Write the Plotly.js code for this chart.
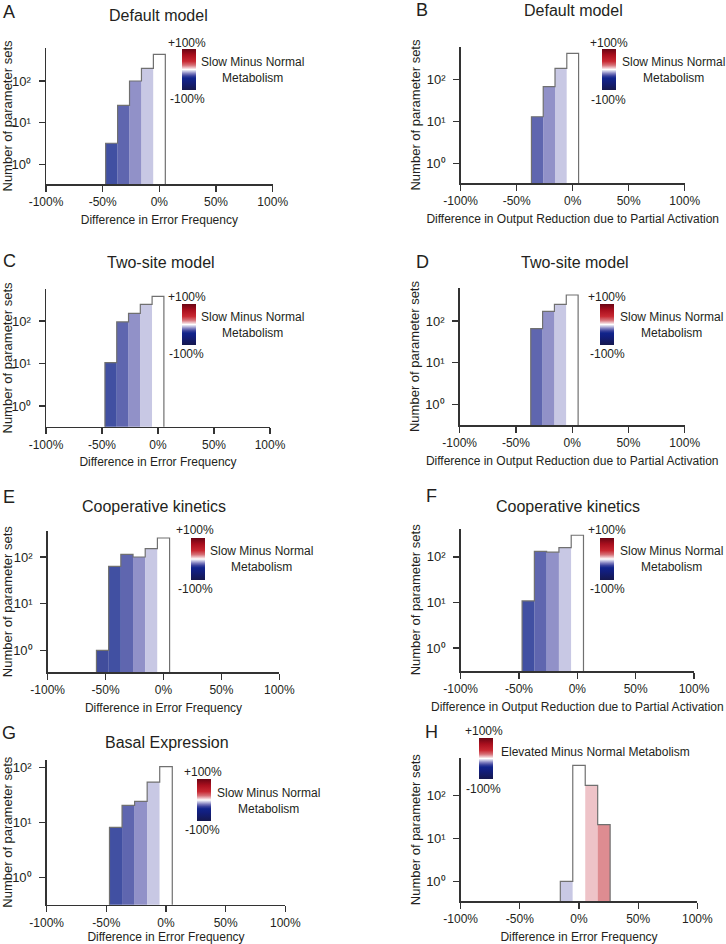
<!DOCTYPE html>
<html>
<head>
<meta charset="utf-8">
<script src="https://cdn.plot.ly/plotly-3.0.1.min.js"></script>
<style>html,body{margin:0;padding:0;background:#fff;}#chart{width:726px;height:944px;}</style>
</head>
<body>
<div id="chart"></div>
<script>
// ---------------- DATA ----------------
// histogram bin centres (percent), bins of width 200/19 %
const centersA = [-42.11, -31.58, -21.05, -10.53, 0];
const countsA  = [3.2, 26, 100, 201, 437];
const centersB = [-31.58, -21.05, -10.53, 0];
const countsB  = [12.9, 67, 183, 416];
const centersC = [-42.11, -31.58, -21.05, -10.53, 0];
const countsC  = [10.5, 95, 151, 247, 381];
const centersD = [-31.58, -21.05, -10.53, 0];
const countsD  = [65.5, 171, 251, 421];
const centersE = [-52.63, -42.11, -31.58, -21.05, -10.53, 0];
const countsE  = [1, 63, 114, 100, 151, 255];
const centersF = [-42.11, -31.58, -21.05, -10.53, 0];
const countsF  = [10.8, 133, 127, 160, 299];
const centersG = [-42.11, -31.58, -21.05, -10.53, 0];
const countsG  = [8.1, 20.4, 24.1, 54.1, 103];
const centersH = [-10.53, 0, 10.53, 21.05];
const countsH  = [1, 499, 171, 20.8];

const panelLetters = ['A','B','C','D','E','F','G','H'];
const panelTitles = ['Default model','Default model','Two-site model','Two-site model',
                     'Cooperative kinetics','Cooperative kinetics','Basal Expression',''];
const xTitles = ['Difference in Error Frequency','Difference in Output Reduction due to Partial Activation',
                 'Difference in Error Frequency','Difference in Output Reduction due to Partial Activation',
                 'Difference in Error Frequency','Difference in Output Reduction due to Partial Activation',
                 'Difference in Error Frequency','Difference in Error Frequency'];
const yTitle = 'Number of parameter sets';
const cbLabels = ['Slow Minus Normal<br>Metabolism','Slow Minus Normal<br>Metabolism',
                  'Slow Minus Normal<br>Metabolism','Slow Minus Normal<br>Metabolism',
                  'Slow Minus Normal<br>Metabolism','Slow Minus Normal<br>Metabolism',
                  'Slow Minus Normal<br>Metabolism','Elevated Minus Normal Metabolism'];
const cbTop = '+100%', cbBottom = '-100%';
const xTickVals = [-100, -50, 0, 50, 100];
const xTickText = ['-100%', '-50%', '0%', '50%', '100%'];
const yTickVals = [1, 10, 100];
const yTickText = ['10\u2070', '10\u00B9', '10\u00B2'];
const colorMin = -100, colorMax = 100;

const allCenters = [centersA, centersB, centersC, centersD, centersE, centersF, centersG, centersH];
const allCounts  = [countsA, countsB, countsC, countsD, countsE, countsF, countsG, countsH];

// ---------------- GEOMETRY / STYLE (pixels) ----------------
const W = 726, H = 944;
const BIN = 200 / 19;
const geo = [
 {x0:46,   x1:272.7, y0:47.7,  y1:184.3, yr:[-0.48,2.80], cb:[181.7,49.3,90],   plusY:42.7,  minusY:99.3,  cbCx:187,   txt:[252.3,70.5],  letter:[9.3,11.7],  title:[158.7,15.7]},
 {x0:460.7,x1:684.7, y0:46.7,  y1:183.3, yr:[-0.476,2.78],cb:[602.3,49.3,90.7], plusY:42.7,  minusY:100,   cbCx:608.5, txt:[673,70.5],    letter:[422.3,10],  title:[573.7,10.7]},
 {x0:46,   x1:270,   y0:289.3, y1:426.7, yr:[-0.486,2.745],cb:[181.7,304.3,345],plusY:297,   minusY:354.3, cbCx:186.7, txt:[252.3,325.2], letter:[9.3,261],   title:[161,262]},
 {x0:459.7,x1:684.7, y0:287.7, y1:425.3, yr:[-0.504,2.80], cb:[600.3,303.7,345],plusY:297,   minusY:354.3, cbCx:607,   txt:[671.3,325.2], letter:[423,262],   title:[574.7,262]},
 {x0:47.7, x1:279.3, y0:531.3, y1:672,   yr:[-0.464,2.55], cb:[190.7,537.7,579.3],plusY:530.3,minusY:588.7, cbCx:195,   txt:[261.7,559.2], letter:[9.3,497],   title:[154,507]},
 {x0:460.7,x1:694,   y0:528.7, y1:671,   yr:[-0.505,2.62], cb:[600.3,537.7,579.3],plusY:530.3,minusY:588.7, cbCx:607,   txt:[671.3,559.2], letter:[431.3,496], title:[568,506.3]},
 {x0:46.7, x1:285.3, y0:759.7, y1:904.7, yr:[-0.497,2.14], cb:[197.3,779,821.3], plusY:772,   minusY:830.3, cbCx:202.7, txt:[268.3,801],   letter:[9.3,733],   title:[166.7,742.3]},
 {x0:460.7,x1:697.3, y0:758,   y1:901.3, yr:[-0.465,2.87], cb:[479,738,779],     plusY:731.3, minusY:789,   cbCx:483.7, txt:[595.3,752],   letter:[431.3,732], title:[0,0]}
];

const colorscale = [
 [0.000,'rgb(22,24,78)'],
 [0.200,'rgb(18,30,125)'],
 [0.290,'rgb(17,36,139)'],
 [0.342,'rgb(55,64,155)'],
 [0.395,'rgb(117,117,186)'],
 [0.447,'rgb(186,186,221)'],
 [0.500,'rgb(255,255,255)'],
 [0.553,'rgb(234,180,186)'],
 [0.605,'rgb(214,111,118)'],
 [0.700,'rgb(200,40,50)'],
 [0.850,'rgb(170,15,30)'],
 [1.000,'rgb(105,5,20)']
];

const FONT = 'Liberation Sans, Arial, Helvetica, sans-serif';
const TXT = '#231f20';
const AX = '#333333';

function stepOutline(centers, counts) {
  const floor = 1e-3;
  const e0 = centers[0] - BIN / 2;
  const xs = [e0], ys = [floor];
  for (let i = 0; i < centers.length; i++) {
    xs.push(centers[i] - BIN / 2, centers[i] + BIN / 2);
    ys.push(counts[i], counts[i]);
  }
  xs.push(centers[centers.length - 1] + BIN / 2);
  ys.push(floor);
  return {xs, ys};
}

const traces = [];
const layout = {
  width: W, height: H,
  margin: {l:0, r:0, t:0, b:0},
  paper_bgcolor: '#fff', plot_bgcolor: 'rgba(0,0,0,0)',
  font: {family: FONT, color: TXT, size: 12},
  showlegend: false,
  annotations: []
};

function ann(text, px, py, size, extra) {
  return Object.assign({text: text, x: px / W, y: 1 - py / H, xref: 'paper', yref: 'paper',
    xanchor: 'center', yanchor: 'middle', showarrow: false, font: {size: size, color: TXT, family: FONT}}, extra || {});
}

for (let i = 0; i < 8; i++) {
  const s = i === 0 ? '' : String(i + 1);
  const g = geo[i];
  const xa = 'x' + s, ya = 'y' + s, ca = 'coloraxis' + s;
  traces.push({
    type: 'bar', x: allCenters[i], y: allCounts[i], width: BIN,
    xaxis: xa, yaxis: ya, hoverinfo: 'skip',
    marker: {color: allCenters[i], coloraxis: ca, opacity: 0.8, line: {width: 0}}
  });
  const st = stepOutline(allCenters[i], allCounts[i]);
  traces.push({
    type: 'scatter', mode: 'lines', x: st.xs, y: st.ys, xaxis: xa, yaxis: ya,
    hoverinfo: 'skip', line: {color: '#707070', width: 1.2}
  });
  layout['xaxis' + s] = {
    domain: [g.x0 / W, g.x1 / W], anchor: ya, range: [-100, 100],
    tickmode: 'array', tickvals: xTickVals, ticktext: xTickText,
    ticks: 'outside', ticklen: 6, tickwidth: 1.2, tickcolor: AX,
    showline: true, linecolor: AX, linewidth: 1.5, showgrid: false, zeroline: false,
    tickfont: {size: 12, color: TXT, family: FONT}, ticklabelstandoff: 0,
    title: {text: xTitles[i], font: {size: 12, color: TXT, family: FONT}, standoff: 7}
  };
  layout['yaxis' + s] = {
    domain: [1 - g.y1 / H, 1 - g.y0 / H], anchor: xa, type: 'log', range: g.yr,
    tickmode: 'array', tickvals: yTickVals, ticktext: yTickText,
    ticks: 'outside', ticklen: 6, tickwidth: 1.2, tickcolor: AX,
    showline: true, linecolor: AX, linewidth: 1.5, showgrid: false, zeroline: false,
    tickfont: {size: 13, color: TXT, family: FONT}, ticklabelstandoff: 5,
    title: {text: yTitle, font: {size: 13, color: TXT, family: FONT}, standoff: 2}
  };
  layout[ca] = {
    cmin: colorMin, cmax: colorMax, colorscale: colorscale,
    colorbar: {
      x: g.cb[0] / W, xanchor: 'left', y: 1 - g.cb[1] / H, yanchor: 'top',
      len: g.cb[2] - g.cb[1], lenmode: 'pixels', thickness: 14, thicknessmode: 'pixels',
      xpad: 0, ypad: 0, outlinewidth: 0, showticklabels: false, ticks: ''
    }
  };
  layout.annotations.push(ann(panelLetters[i], g.letter[0], g.letter[1], 18));
  if (panelTitles[i]) layout.annotations.push(ann(panelTitles[i], g.title[0], g.title[1], 16));
  layout.annotations.push(ann(cbTop, g.cbCx, g.plusY, 12));
  layout.annotations.push(ann(cbBottom, g.cbCx, g.minusY, 12));
  layout.annotations.push(ann(cbLabels[i], g.txt[0], g.txt[1], 12));
}

Plotly.newPlot('chart', traces, layout, {staticPlot: true, displayModeBar: false});
</script>
</body>
</html>
